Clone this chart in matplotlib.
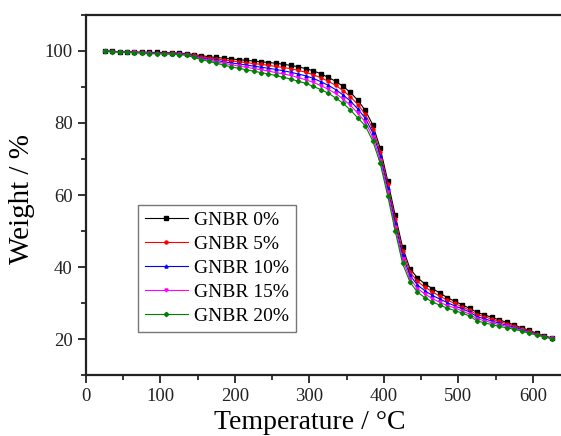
import matplotlib.pyplot as plt
from matplotlib.ticker import MultipleLocator

# temperature (°C) and weight (%)
temperature = [25, 35, 45, 55, 65, 75, 85, 95, 105, 115, 125, 135, 145, 155, 165,
               175, 185, 195, 205, 215, 225, 235, 245, 255, 265, 275, 285, 295,
               305, 315, 325, 335, 345, 355, 365, 375, 385, 395, 405, 415, 425,
               435, 445, 455, 465, 475, 485, 495, 505, 515, 525, 535, 545, 555,
               565, 575, 585, 595, 605, 615, 625]

gnbr_0 = [100.0, 99.9, 99.8, 99.8, 99.7, 99.7, 99.6, 99.6, 99.5, 99.5, 99.4, 99.3,
          99.0, 98.7, 98.4, 98.2, 98.0, 97.8, 97.6, 97.4, 97.2, 97.0, 96.8, 96.6,
          96.3, 96.0, 95.6, 95.1, 94.5, 93.7, 92.7, 91.6, 90.2, 88.5, 86.3, 83.5,
          79.5, 73.0, 64.0, 54.5, 45.5, 39.5, 37.0, 35.3, 34.0, 32.8, 31.5, 30.5,
          29.5, 28.5, 27.4, 26.7, 26.0, 25.3, 24.6, 23.9, 23.1, 22.4, 21.6, 20.9, 20.3]
gnbr_5 = [99.9, 99.9, 99.8, 99.7, 99.7, 99.6, 99.5, 99.5, 99.4, 99.4, 99.3, 99.2,
          98.8, 98.4, 98.1, 97.8, 97.5, 97.3, 97.0, 96.8, 96.5, 96.3, 96.0, 95.7,
          95.4, 95.1, 94.6, 94.1, 93.4, 92.6, 91.6, 90.5, 89.0, 87.3, 85.1, 82.4,
          78.4, 71.9, 63.0, 53.4, 44.4, 38.6, 36.0, 34.4, 33.1, 31.9, 30.8, 29.9,
          28.9, 28.0, 26.8, 26.2, 25.5, 24.9, 24.2, 23.6, 22.9, 22.2, 21.5, 20.8, 20.3]
gnbr_10 = [100.0, 99.9, 99.8, 99.7, 99.6, 99.6, 99.5, 99.4, 99.4, 99.3, 99.2, 99.1,
           98.6, 98.1, 97.7, 97.4, 97.0, 96.7, 96.4, 96.1, 95.8, 95.5, 95.2, 94.9,
           94.5, 94.1, 93.6, 93.1, 92.4, 91.5, 90.5, 89.3, 87.8, 86.1, 83.9, 81.3,
           77.3, 70.9, 62.0, 52.3, 43.2, 37.7, 35.0, 33.4, 32.1, 31.1, 30.1, 29.2,
           28.4, 27.5, 26.2, 25.6, 25.0, 24.4, 23.8, 23.3, 22.6, 22.0, 21.3, 20.7, 20.2]
gnbr_15 = [99.9, 99.8, 99.7, 99.7, 99.6, 99.5, 99.4, 99.3, 99.3, 99.2, 99.1, 98.9,
           98.4, 97.9, 97.4, 97.0, 96.6, 96.2, 95.8, 95.5, 95.1, 94.8, 94.4, 94.0,
           93.6, 93.2, 92.6, 92.0, 91.3, 90.4, 89.4, 88.2, 86.7, 84.9, 82.7, 80.3,
           76.1, 69.8, 60.9, 51.2, 42.1, 36.8, 34.0, 32.5, 31.2, 30.2, 29.3, 28.6,
           27.8, 26.9, 25.6, 25.1, 24.5, 24.0, 23.5, 23.0, 22.4, 21.8, 21.2, 20.6, 20.2]
gnbr_20 = [99.9, 99.8, 99.7, 99.6, 99.5, 99.4, 99.3, 99.2, 99.2, 99.1, 99.0, 98.8,
           98.2, 97.6, 97.1, 96.6, 96.1, 95.6, 95.2, 94.8, 94.4, 94.0, 93.6, 93.2,
           92.7, 92.2, 91.6, 91.0, 90.2, 89.3, 88.3, 87.0, 85.5, 83.6, 81.4, 79.2,
           75.0, 68.8, 59.8, 50.1, 41.0, 35.8, 33.0, 31.5, 30.3, 29.4, 28.6, 27.9,
           27.2, 26.4, 25.0, 24.5, 24.0, 23.5, 23.1, 22.7, 22.2, 21.6, 21.1, 20.6, 20.1]

labels = ['GNBR 0%', 'GNBR 5%', 'GNBR 10%', 'GNBR 15%', 'GNBR 20%']
series = [gnbr_0, gnbr_5, gnbr_10, gnbr_15, gnbr_20]
colors = ['#000000', '#ff0000', '#0000ff', '#ff00ff', '#008000']
markers = ['s', 'o', '^', 'v', 'D']

plt.rcParams['font.family'] = ['Liberation Serif', 'DejaVu Serif']

fig = plt.figure(figsize=(5.61, 4.36), dpi=100)
# axes run past the right edge of the picture, like the cropped original
ax = fig.add_axes([0.1533, 0.1399, 0.863, 0.8257])

for y, lab, c, m in zip(series, labels, colors, markers):
    ax.plot(temperature, y, color=c, marker=m, markersize=2.2, linewidth=0.8,
            label=lab)

ax.set_xlim(0, 650)
ax.set_ylim(10, 110)
ax.xaxis.set_major_locator(MultipleLocator(100))
ax.xaxis.set_minor_locator(MultipleLocator(50))
ax.yaxis.set_major_locator(MultipleLocator(20))
ax.yaxis.set_minor_locator(MultipleLocator(10))
ax.tick_params(which='major', direction='out', length=6, width=1.3,
               labelsize=13.5, colors='#222222')
ax.tick_params(which='minor', direction='out', length=3.5, width=1.1)
ax.tick_params(axis='x', pad=3)
for s in ax.spines.values():
    s.set_linewidth(1.6)
    s.set_color('#222222')

ax.set_xlabel('Temperature / °C', fontsize=20)
ax.set_ylabel('Weight / %', fontsize=21)
ax.xaxis.set_label_coords(0.463, -0.098)
ax.yaxis.set_label_coords(-0.105, 0.49)

leg = ax.legend(loc='upper left', bbox_to_anchor=(0.108, 0.473), fontsize=14,
                frameon=True, fancybox=False, borderpad=0.35, labelspacing=0.33,
                handlelength=2.2, handletextpad=0.3, borderaxespad=0)
leg.get_frame().set_edgecolor('#555555')
leg.get_frame().set_linewidth(1.0)

fig.savefig('out.png', dpi=100)
